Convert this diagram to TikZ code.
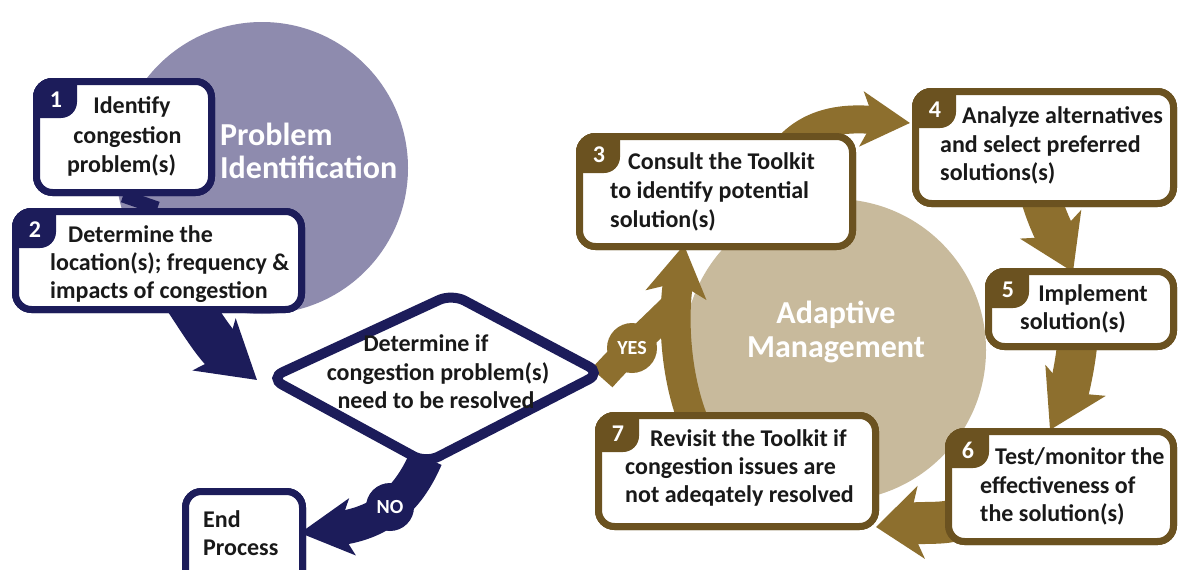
\documentclass[tikz,border=0pt]{standalone}
\usepackage{fontspec}
\setmainfont{Carlito}
\usetikzlibrary{arrows.meta}
\definecolor{navyc}{RGB}{28,28,90}
\definecolor{purc}{RGB}{142,139,174}
\definecolor{ringc}{RGB}{141,111,46}
\definecolor{boxc}{RGB}{107,82,32}
\definecolor{beigec}{RGB}{200,186,156}
\newcommand\mkbadge[3]{%
  \begin{scope}
    \clip[rounded corners=19.5pt] (#1.north west) rectangle (#1.south east);
    \fill[#3, rounded corners=16pt] ([shift={(-30,-30)}]#1.north west) rectangle ([shift={(44,40)}]#1.north west);
  \end{scope}
  \node[numtx] at ([shift={(23,22)}]#1.north west) {#2};}
\tikzset{
  nbox/.style={draw=navyc, line width=7pt, fill=white, rounded corners=16pt, inner sep=0pt},
  bbox/.style={draw=boxc, line width=7pt, fill=white, rounded corners=16pt, inner sep=0pt},
  txl/.style={font=\fontsize{24}{28}\selectfont\bfseries, inner sep=0pt, anchor=base west, text=black!90},
  txc/.style={font=\fontsize{24}{28}\selectfont\bfseries, inner sep=0pt, anchor=base, text=black!90},
  numtx/.style={font=\fontsize{24}{26}\selectfont\bfseries, inner sep=0pt, text=white},
  ttl/.style={font=\fontsize{32}{34}\selectfont\bfseries, inner sep=0pt, text=white},
  yn/.style={font=\fontsize{20}{22}\selectfont\bfseries, inner sep=0pt, text=white},
  navyarrow/.style={navyc, line width=#1},
  ringarrow/.style={ringc, line width=#1},
}
\begin{document}
\begin{tikzpicture}[x=1pt, y=-1pt]
\useasboundingbox (0,0) rectangle (1178,570);
\clip (0,0) rectangle (1178,570);
\fill[white] (0,0) rectangle (1178,570);

% background circles
\fill[purc] (262,168) circle (146pt);
\fill[beigec] (835,350) circle (151pt);

% boxes (positions)
\path (124,137) node[nbox, minimum width=175pt, minimum height=111pt] (b1) {};
\path (158.5,260.5) node[nbox, minimum width=286pt, minimum height=98pt] (b2) {};
\path (716,191.5) node[bbox, minimum width=273pt, minimum height=110pt] (b3) {};
\path (1044.5,147.5) node[bbox, minimum width=258pt, minimum height=112pt] (b4) {};
\path (1081,309) node[bbox, minimum width=185pt, minimum height=75pt] (b5) {};
\path (1061,486.5) node[bbox, minimum width=225pt, minimum height=110pt] (b6) {};
\path (737,471) node[bbox, minimum width=277pt, minimum height=111pt] (b7) {};
\path (244,549) node[nbox, minimum width=117pt, minimum height=115pt] (bend) {};
\coordinate (dL) at (270,378);
\coordinate (dT) at (452,294);
\coordinate (dR) at (601,373);
\coordinate (dB) at (426,463);

% connectors (drawn behind boxes)
\draw[navyc, line width=13pt] ([xshift=-1]b1.south) -- ([xshift=-1]b2.north);
\draw[navyarrow=44pt, -{Stealth[length=55pt, width=66pt, inset=14pt]}]
  ([shift={(28,-13)}]b2.south) .. controls (203,325) and (216,346) .. ([shift={(-13,2)}]dL);
\draw[navyarrow=34pt, -{Stealth[length=52pt, width=56pt, inset=13pt]}]
  ([shift={(0,-5)}]dB) .. controls (410,495) and (385,523) .. ([shift={(-6,-16)}]bend.east);
\draw[ringarrow=28pt] ([shift={(1,5)}]dR) .. controls (625,352) and (650,330) .. (680,300);
\draw[ringarrow=28pt, -{Stealth[length=48pt, width=54pt, inset=12pt]}]
  ([shift={(69,17)}]b3.north) .. controls (812,118) and (850,118) .. ([shift={(-2,35)}]b4.north west);
\draw[ringarrow=40pt, -{Stealth[length=52pt, width=66pt, inset=13pt]}]
  ([shift={(-4.5,-12)}]b4.south) .. controls (1047,220) and (1058,240) .. ([shift={(-8,4)}]b5.north);
\draw[ringarrow=40pt, -{Stealth[length=55pt, width=66pt, inset=13pt]}]
  ([shift={(-3,-15)}]b5.south) .. controls (1076,365) and (1068,395) .. ([shift={(-11,2)}]b6.north);
\draw[ringarrow=42pt, -{Stealth[length=45pt, width=72pt, inset=12pt]}]
  ([shift={(30,18.5)}]b6.west) .. controls (960,528) and (935,521) .. ([shift={(-3,56)}]b7.east);
\draw[ringarrow=30pt, -{Stealth[length=50pt, width=60pt, inset=12pt]}]
  ([shift={(-42,13)}]b7.north) .. controls (676,380) and (672,320) .. ([shift={(-32,-5)}]b3.south);

% redraw boxes on top of the connectors
\path (124,137) node[nbox, minimum width=175pt, minimum height=111pt] {};
\path (158.5,260.5) node[nbox, minimum width=286pt, minimum height=98pt] {};
\path (716,191.5) node[bbox, minimum width=273pt, minimum height=110pt] {};
\path (1044.5,147.5) node[bbox, minimum width=258pt, minimum height=112pt] {};
\path (1081,309) node[bbox, minimum width=185pt, minimum height=75pt] {};
\path (1061,486.5) node[bbox, minimum width=225pt, minimum height=110pt] {};
\path (737,471) node[bbox, minimum width=277pt, minimum height=111pt] {};
\path (244,549) node[nbox, minimum width=117pt, minimum height=115pt] {};

% diamond
\draw[navyc, line width=10pt, fill=white, rounded corners=14pt] (dL) -- (dT) -- (dR) -- (dB) -- cycle;

% badges
\mkbadge{b1}{1}{navyc}
\mkbadge{b2}{2}{navyc}
\mkbadge{b3}{3}{boxc}
\mkbadge{b4}{4}{boxc}
\mkbadge{b5}{5}{boxc}
\mkbadge{b6}{6}{boxc}
\mkbadge{b7}{7}{boxc}

% yes / no circles
\fill[ringc] (632,348) circle (25pt);
\node[yn] (yes) at (632,348) {YES};
\fill[navyc] (390,507) circle (24pt);
\node[yn] (no) at (390,507) {NO};

% titles
\node[ttl, anchor=base west] (pi1) at (220,145) {Problem};
\node[ttl, anchor=base west] (pi2) at (220,178) {Identification};
\node[ttl, anchor=base] (am1) at (836,323) {Adaptive};
\node[ttl, anchor=base] (am2) at (836,357) {Management};

% box texts
\node[txc] (t1a) at (132,113) {Identify};
\node[txc] (t1b) at (127.5,143) {congestion};
\node[txc] (t1c) at (121.5,172) {problem(s)};

\node[txl] (t2a) at (68,242) {Determine the};
\node[txl] (t2b) at (50,270) {location(s); frequency \&};
\node[txl] (t2c) at (50,298) {impacts of congestion};

\node[txl] (t3a) at (628,169) {Consult the Toolkit};
\node[txl] (t3b) at (610,198) {to identify potential};
\node[txl] (t3c) at (610,227) {solution(s)};

\node[txl] (t4a) at (962,123) {Analyze alternatives};
\node[txl] (t4b) at (940,152) {and select preferred};
\node[txl] (t4c) at (940,180) {solutions(s)};

\node[txc] (t5a) at (1093,301) {Implement};
\node[txc] (t5b) at (1073,329) {solution(s)};

\node[txl] (t6a) at (995,464) {Test/monitor the};
\node[txl] (t6b) at (980,493) {effectiveness of};
\node[txl] (t6c) at (980,521) {the solution(s)};

\node[txl] (t7a) at (650,446) {Revisit the Toolkit if};
\node[txl] (t7b) at (625,474) {congestion issues are};
\node[txl] (t7c) at (625,502) {not adeqately resolved};

\node[txc] (tda) at (426,351) {Determine if};
\node[txc] (tdb) at (438,380) {congestion problem(s)};
\node[txc] (tdc) at (436,408) {need to be resolved};

\node[txl] (tea) at (203,527) {End};
\node[txl] (teb) at (203,555) {Process};
\end{tikzpicture}
\end{document}
